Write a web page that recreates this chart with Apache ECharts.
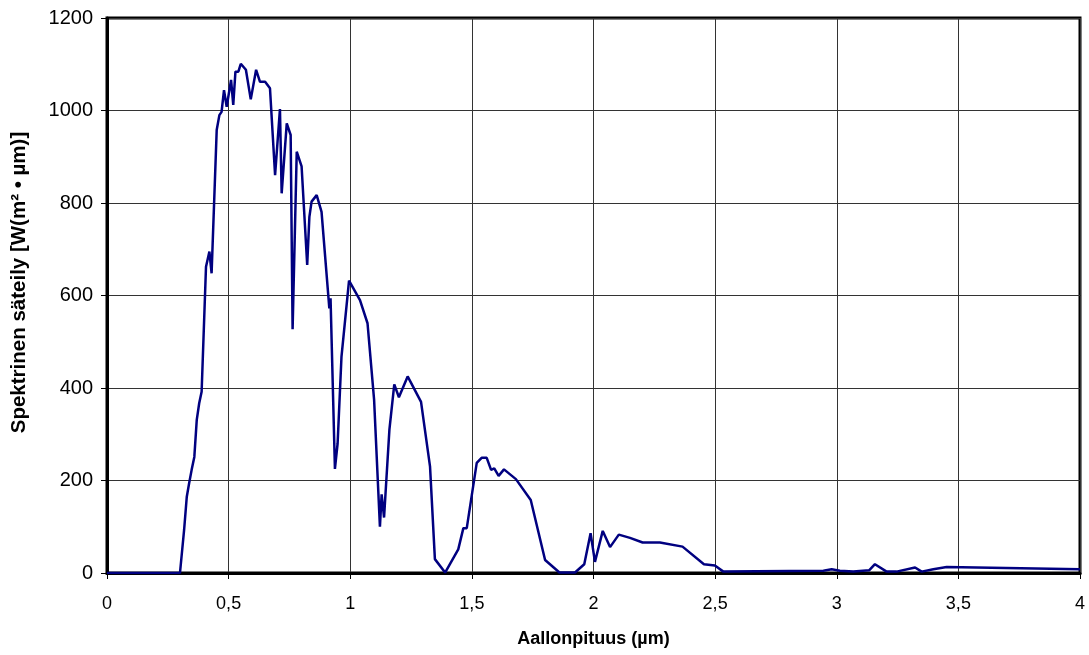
<!DOCTYPE html>
<html>
<head>
<meta charset="utf-8">
<script src="https://cdn.jsdelivr.net/npm/echarts@6/dist/echarts.min.js"></script>
<style>
  html, body { margin: 0; padding: 0; background: #fff; }
  #chart { width: 1089px; height: 655px; }
</style>
</head>
<body>
<div id="chart"></div>
<script>
// Wavelength (µm) and spectral irradiance (W/(m²·µm)) of solar radiation
const wavelength = [
  0, 0.30, 0.317, 0.328, 0.338, 0.348, 0.359, 0.369, 0.379, 0.389,
  0.407, 0.421, 0.430, 0.451, 0.462, 0.471, 0.481, 0.492, 0.510, 0.519,
  0.528, 0.540, 0.550, 0.571, 0.591, 0.613, 0.629, 0.650, 0.670, 0.691,
  0.711, 0.718, 0.739, 0.755, 0.763, 0.780, 0.800, 0.823, 0.832, 0.841,
  0.862, 0.882, 0.914, 0.919, 0.922, 0.937, 0.948, 0.964, 0.995, 1.040,
  1.071, 1.098, 1.122, 1.129, 1.139, 1.161, 1.181, 1.200, 1.236, 1.291,
  1.328, 1.348, 1.390, 1.444, 1.465, 1.479, 1.520, 1.540, 1.561, 1.579,
  1.592, 1.610, 1.632, 1.681, 1.742, 1.801, 1.860, 1.924, 1.962, 1.988,
  2.006, 2.038, 2.068, 2.104, 2.150, 2.202, 2.273, 2.366, 2.454, 2.499,
  2.534, 2.945, 2.979, 3.013, 3.068, 3.134, 3.157, 3.205, 3.246, 3.322,
  3.349, 3.397, 3.452, 4.0
];
const irradiance = [
  0, 0, 93, 165, 195, 223, 251, 331, 367, 392,
  662, 695, 648, 958, 990, 997, 1044, 1008, 1066, 1012,
  1084, 1084, 1101, 1088, 1024, 1088, 1062, 1062, 1048, 860,
  1003, 821, 972, 947, 527, 911, 879, 666, 770, 803,
  817, 781, 572, 594, 590, 225, 280, 468, 632, 590,
  540, 375, 100, 170, 120, 310, 408, 380, 425, 370,
  230, 30, 1, 51, 97, 97, 238, 249, 249, 223,
  226, 210, 224, 203, 158, 28, 1, 1, 19, 86,
  24, 91, 56, 83, 76, 66, 66, 57, 19, 16,
  3, 5, 8, 5, 3, 6, 19, 3, 3, 12,
  3, 8, 13, 8
];

const xTicks = { min: 0, max: 4, step: 0.5 };
const yTicks = { min: 0, max: 1200, step: 200 };

const points = wavelength.map((w, i) => [w, irradiance[i]]);

const chart = echarts.init(document.getElementById('chart'), null, { renderer: 'canvas' });
const font = '"Liberation Sans", Arial, sans-serif';

chart.setOption({
  animation: false,
  backgroundColor: '#ffffff',
  grid: {
    left: 107, right: 9, top: 18, bottom: 82,
    show: true, borderColor: '#000', borderWidth: 3, backgroundColor: 'transparent'
  },
  xAxis: {
    type: 'value',
    min: xTicks.min, max: xTicks.max, interval: xTicks.step,
    name: 'Aallonpituus (µm)',
    nameLocation: 'middle', nameGap: 57,
    nameTextStyle: { fontFamily: font, fontSize: 18, fontWeight: 'bold', color: '#000' },
    axisLine: { show: true, onZero: false, lineStyle: { color: '#000', width: 3 } },
    axisTick: { show: true, length: 6, lineStyle: { color: '#000', width: 1 } },
    axisLabel: {
      fontFamily: font, fontSize: 18, color: '#000', margin: 22,
      formatter: v => String(v).replace('.', ',')
    },
    splitLine: { show: true, lineStyle: { color: '#333', width: 1 } }
  },
  yAxis: {
    type: 'value',
    min: yTicks.min, max: yTicks.max, interval: yTicks.step,
    name: 'Spektrinen säteily [W(m² • µm)]',
    nameLocation: 'middle', nameGap: 77,
    nameTextStyle: {
      fontFamily: font, fontSize: 20.5, fontWeight: 'bold', color: '#000',
      padding: [0, 0, 0, 26]
    },
    axisLine: { show: true, lineStyle: { color: '#000', width: 3 } },
    axisTick: { show: true, length: 6, lineStyle: { color: '#000', width: 1 } },
    axisLabel: { fontFamily: font, fontSize: 20, color: '#000', margin: 14, formatter: v => String(v) },
    splitLine: { show: true, lineStyle: { color: '#333', width: 1 } }
  },
  series: [{
    type: 'line',
    data: points,
    showSymbol: false,
    lineStyle: { color: '#000080', width: 2.5 },
    z: 5
  }]
});
</script>
</body>
</html>
